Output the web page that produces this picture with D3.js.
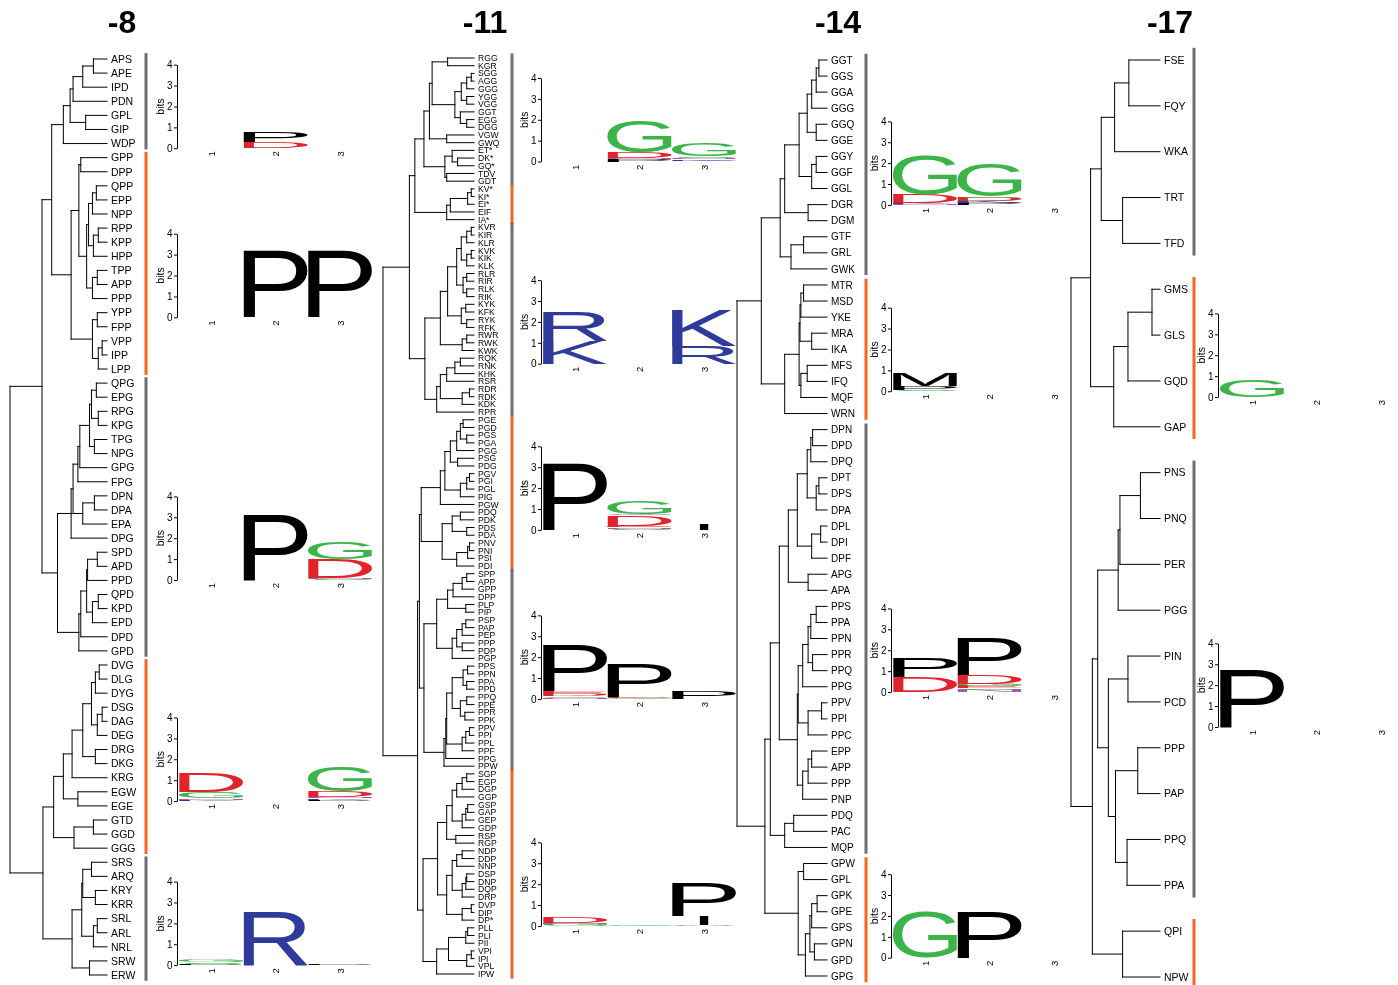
<!DOCTYPE html>
<html>
<head>
<meta charset="utf-8">
<script src="https://cdn.jsdelivr.net/npm/d3@7"></script>
<style>
  body { margin: 0; background: #fff; }
  svg { display: block; will-change: transform; }
  text { font-family: "Liberation Sans", Arial, Helvetica, sans-serif; }
</style>
</head>
<body>
<svg id="chart" width="1398" height="985"></svg>
<script>
// ---- Dendrograms: [mergeHeight, child, child]; leaves are strings (top to bottom) ----
const tree8 = [1.00,
  [0.67,
    [0.57,
      [0.45, [0.38, [0.35, [0.25, [0.14, "APS", "APE"], "IPD"], "PDN"], [0.22, "GPL", "GIP"]], "WDP"],
      [0.37,
        [0.29, [0.27, "GPP", "DPP"],
               [0.21, [0.19, [0.15, [0.11, "QPP", "EPP"], "NPP"], [0.14, [0.09, "RPP", "KPP"], "HPP"]],
                      [0.15, [0.10, "TPP", "APP"], "PPP"]]],
        [0.15, [0.10, "YPP", "FPP"], [0.09, [0.05, "VPP", "IPP"], "LPP"]]]],
    [0.51,
      [0.37, [0.35, [0.30, [0.28, [0.18, [0.16, [0.11, "QPG", "EPG"], [0.09, "RPG", "KPG"]], [0.13, "TPG", "NPG"]], "GPG"], "FPG"],
                    [0.25, [0.13, "DPN", "DPA"], "EPA"]], "DPG"],
      [0.29, [0.27, [0.21, [0.20, [0.10, "SPD", "APD"], "PPD"], [0.15, [0.09, "QPD", "KPD"], "EPD"]], "DPD"], "GPD"]]],
  [0.66,
    [0.55,
      [0.45, [0.36, [0.25, [0.16, [0.12, [0.08, "DVG", "DLG"], "DYG"], [0.10, [0.05, "DSG", "DAG"], "DEG"]], [0.12, "DRG", "DKG"]], "KRG"],
             [0.30, "EGW", "EGE"]],
      [0.34, [0.14, "GTD", "GGD"], "GGG"]],
    [0.36, [0.26, [0.25, [0.16, "SRS", "ARQ"], [0.12, "KRY", "KRR"]], [0.14, [0.10, "SRL", "ARL"], "NRL"]], [0.18, "SRW", "ERW"]]]];

const tree11 = [1.00,
  [0.71,
    [0.65,
      [0.55,
        [0.49,
          [0.46, [0.29, "RGG", "KGR"],
                 [0.21, [0.14, [0.08, [0.03, "SGG", "AGG"], "GGG"], [0.08, "YGG", "VGG"]], [0.15, "GGT", [0.08, "EGG", "DGG"]]]],
          [0.30, "VGW", "GWQ"]],
        [0.32, [0.24, "ET*", [0.18, "DK*", "GQ*"]], [0.30, "TDV", "GDT"]]],
      [0.30, [0.26, [0.07, [0.03, "KV*", "KI*"], "EI*"], "EIF"], "IA*"]],
    [0.54,
      [0.37,
        [0.29,
          [0.19, [0.14, [0.08, [0.03, "KVR", "KIR"], "KLR"], [0.08, [0.03, "KVK", "KIK"], "KLK"]],
                 [0.12, [0.08, "RLR", "RIR"], [0.08, "RLK", "RIK"]]],
          [0.14, [0.09, "KYK", "KFK"], [0.08, "RYK", "RFK"]]],
        [0.13, [0.08, "RWR", "RWK"], "KWK"]],
      [0.41,
        [0.37, [0.30, [0.21, [0.15, "RQK", "RNK"], "KHK"], "RSR"], [0.13, [0.05, "RDR", "RDK"], "KDK"]],
        "RPR"]]],
  [0.62,
    [0.60,
      [0.58,
        [0.37, [0.32, [0.26, [0.19, [0.15, [0.12, "PGE", "PGD"], [0.08, "PGS", "PGA"]], "PGG"], [0.18, "PSG", "PDG"]],
                      [0.15, [0.08, [0.05, "PGV", "PGI"], "PGL"], "PIG"]], "PGW"],
        [0.35, [0.24, [0.15, "PDQ", "PDK"], [0.08, "PDS", "PDA"]], [0.19, [0.07, [0.05, "PNV", "PNI"], "PSI"], "PDI"]]],
      [0.55,
        [0.41, [0.29, [0.23, [0.13, [0.08, "SPP", "APP"], "GPP"], "DPP"], [0.09, "PLP", "PIP"]],
               [0.24, [0.19, [0.13, [0.09, "PSP", "PAP"], "PEP"], [0.13, "PPP", "PDP"]], "PGP"]],
        [0.33, [0.31, [0.30, [0.24, [0.12, [0.07, "PPS", "PPN"], [0.08, "PPA", "PPD"]], [0.15, [0.08, "PPQ", "PPE"], [0.10, "PPR", "PPK"]]],
                             [0.13, [0.09, [0.05, "PPV", "PPI"], "PPL"], "PPF"]], "PPG"], "PPW"]]],
    [0.56,
      [0.40,
        [0.30, [0.24, [0.19, [0.13, [0.08, "SGP", "EGP"], "DGP"], "GGP"], [0.13, [0.09, [0.07, "GSP", "GAP"], "GEP"], "GDP"]], [0.20, "RSP", "RGP"]],
        [0.30, [0.24, [0.19, [0.13, "NDP", "DDP"], "NNP"], [0.13, [0.09, [0.08, "DSP", "DNP"], "DQP"], "DRP"]], [0.13, [0.03, "DVP", "DIP"], "DP*"]]],
      [0.41, [0.28, [0.09, [0.07, "PLL", "PLI"], "PII"], [0.08, [0.03, "VPI", "IPI"], "VPL"]], "IPW"]]]];

const tree14 = [1.00,
  [0.73,
    [0.52,
      [0.47, [0.31, [0.22, [0.17, [0.12, [0.09, "GGT", "GGS"], "GGA"], "GGG"], [0.12, "GGQ", "GGE"]], [0.17, [0.12, "GGY", "GGF"], "GGL"]], [0.21, "DGR", "DGM"]],
      [0.40, [0.26, "GTF", "GRL"], "GWK"]],
    [0.47, [0.31, [0.30, [0.29, [0.26, "MTR", "MSD"], "YKE"], [0.17, "MRA", "IKA"]], [0.29, [0.22, "MFS", "IFQ"], "MQF"]], "WRN"]],
  [0.69,
    [0.63,
      [0.53,
        [0.43, [0.33, [0.22, [0.18, [0.16, "DPN", "DPD"], "DPQ"], [0.12, [0.09, "DPT", "DPS"], "DPA"]], [0.17, [0.07, "DPL", "DPI"], "DPF"]], [0.21, "APG", "APA"]],
        [0.33, [0.32, [0.27, [0.21, [0.18, [0.12, "PPS", "PPA"], "PPN"], [0.16, "PPR", "PPQ"]], "PPG"], [0.21, [0.06, "PPV", "PPI"], "PPC"]],
               [0.27, [0.21, [0.17, "EPP", "APP"], "PPP"], "PNP"]]],
      [0.47, [0.37, "PDQ", "PAC"], "MQP"]],
    [0.32, [0.26, "GPW", "GPL"], [0.24, [0.19, [0.17, [0.11, "GPK", "GPE"], "GPS"], [0.14, "GPN", "GPD"]], "GPG"]]]];

const tree17 = [1.00,
  [0.78,
    [0.66, [0.51, [0.35, "FSE", "FQY"], "WKA"], [0.42, "TRT", "TFD"]],
    [0.52, [0.36, [0.09, "GMS", "GLS"], "GQD"], "GAP"]],
  [0.76,
    [0.70, [0.47, [0.45, [0.22, "PNS", "PNQ"], "PER"], "PGG"],
           [0.58, [0.36, "PIN", "PCD"], [0.50, [0.25, "PPP", "PAP"], [0.37, "PPQ", "PPA"]]]],
    [0.42, "QPI", "NPW"]]];

// ---- Cluster sizes (consecutive leaves, alternating grey / orange) ----
const clusters8  = [7, 16, 20, 14, 9];
const clusters11 = [17, 5, 25, 20, 26, 27];
const clusters14 = [14, 9, 27, 8];
const clusters17 = [5, 4, 10, 2];

// ---- Sequence logos per cluster: three positions, stacks of [residue, bits] bottom to top ----
const logos8 = [
  [[], [["D", 0.3], ["P", 0.5]], []],
  [[], [["P", 3.2]], [["P", 3.2]]],
  [[], [["P", 3.15]], [["S", 0.05], ["N", 0.05], ["D", 0.9], ["G", 0.8]]],
  [[["K", 0.06], ["N", 0.06], ["G", 0.3], ["D", 0.9]], [], [["P", 0.05], ["K", 0.08], ["N", 0.05], ["D", 0.3], ["G", 1.2]]],
  [[["P", 0.05], ["S", 0.08], ["G", 0.12]], [["R", 2.6]], [["P", 0.08]]]
];
const logos11 = [
  [[], [["P", 0.1], ["N", 0.05], ["D", 0.27], ["G", 1.5]], [["Q", 0.05], ["K", 0.06], ["N", 0.08], ["S", 0.08], ["G", 0.65]]],
  null,
  [[["K", 1.1], ["R", 1.45]], [], [["R", 0.85], ["K", 1.7]]],
  [[["P", 3.2]], [["S", 0.05], ["N", 0.08], ["E", 0.06], ["D", 0.5], ["Q", 0.05], ["G", 0.6]], [["I", 0.3]]],
  [[["N", 0.06], ["G", 0.08], ["D", 0.12], ["E", 0.1], ["P", 2.2]], [["G", 0.05], ["D", 0.05], ["P", 1.6]], [["P", 0.35]]],
  [[["G", 0.1], ["N", 0.06], ["D", 0.3]], [["G", 0.05]], [["A", 0.06], ["I", 0.4], ["P", 1.6]]]
];
const logos14 = [
  [[["N", 0.05], ["K", 0.05], ["D", 0.4], ["G", 1.9]], [["P", 0.1], ["K", 0.1], ["D", 0.15], ["S", 0.05], ["G", 1.55]], []],
  [[["S", 0.08], ["P", 0.15], ["M", 0.6]], [], []],
  [[["D", 0.7], ["P", 0.9]], [["N", 0.1], ["S", 0.08], ["E", 0.1], ["G", 0.12], ["D", 0.4], ["P", 1.8]], []],
  [[["G", 2.2]], [["P", 2.2]], []]
];
const logos17 = [
  null,
  [[["G", 0.8]], [], []],
  [[["P", 2.75]], [], []],
  null
];

const positionLabels = ["1", "2", "3"];
const bitTicks = [0, 1, 2, 3, 4];

// ---- Layout ----
const panels = [
  { title: "-8",  tree: tree8,  clusters: clusters8,  logos: logos8,  titleX: 122,  rootX: 10,   leafX: 107,  top: 59, bottom: 975, labelSize: 10.5, barX: 146,  axisX: 177,  drop: [47, 54, 63, 44.5, 46.5] },
  { title: "-11", tree: tree11, clusters: clusters11, logos: logos11, titleX: 485,  rootX: 383,  leafX: 474,  top: 58, bottom: 974, labelSize: 8.6,  barX: 512,  axisX: 541,  drop: [42, 0, 44, 37, 29, 52] },
  { title: "-14", tree: tree14, clusters: clusters14, logos: logos14, titleX: 838,  rootX: 737,  leafX: 827,  top: 60, bottom: 976, labelSize: 10,   barX: 866,  axisX: 891,  drop: [40.5, 42, 53.5, 38] },
  { title: "-17", tree: tree17, clusters: clusters17, logos: logos17, titleX: 1170, rootX: 1071, leafX: 1160, top: 60, bottom: 977, labelSize: 10.5, barX: 1194, axisX: 1218, drop: [0, 39, 48, 0] }
];

const clusterColors = ["#6d6e71", "#f26522"];
const residueColor = r => ({
  G: "#3bb54a", S: "#3bb54a", T: "#3bb54a", Y: "#3bb54a", C: "#3bb54a",
  N: "#b452b4", Q: "#b452b4",
  K: "#2e3b9a", R: "#2e3b9a", H: "#2e3b9a",
  D: "#e1232b", E: "#e1232b"
}[r] || "#000");
// residues whose glyph keeps a narrow stroke instead of filling the column
const narrowResidues = { I: 0.14 };

const FONT = '"Liberation Sans", Arial, Helvetica, sans-serif';
const PX_PER_BIT = 20.9;
const COL_W = 64.5;

const svg = d3.select("#chart");

// tight glyph bounds so each residue can be stretched to fill its box
const measureCtx = document.createElement("canvas").getContext("2d");
const glyphCache = {};
function glyphBox(ch) {
  if (!glyphCache[ch]) {
    measureCtx.font = `100px ${FONT}`;
    const m = measureCtx.measureText(ch);
    glyphCache[ch] = { l: m.actualBoundingBoxLeft, r: m.actualBoundingBoxRight,
                       a: m.actualBoundingBoxAscent, d: m.actualBoundingBoxDescent };
  }
  return glyphCache[ch];
}
function drawResidue(g, ch, x0, y0, w, h) {
  const b = glyphBox(ch);
  const gw = b.l + b.r, gh = b.a + b.d;
  const f = narrowResidues[ch] || 1;
  const wd = w * f, xd = x0 + (w - wd) / 2;
  g.append("text")
    .text(ch)
    .attr("fill", residueColor(ch))
    .style("font-size", "100px")
    .attr("transform", `translate(${xd},${y0}) scale(${wd / gw},${h / gh}) translate(${b.l},${b.a})`);
}

function drawLogo(g, stacks, axisX, baseY) {
  const bits = d3.scaleLinear().domain([0, 4]).range([baseY, baseY - 4 * PX_PER_BIT]);
  const colX = d3.scaleBand().domain(positionLabels).range([axisX + 2, axisX + 2 + 3 * COL_W]);

  const ax = g.append("g").attr("transform", `translate(${axisX},0)`)
    .call(d3.axisLeft(bits).tickValues(bitTicks).tickFormat(d3.format("d")).tickSize(3).tickSizeOuter(0).tickPadding(1.5));
  ax.attr("font-family", null).attr("font-size", null);
  ax.select(".domain").attr("stroke", "#000").attr("stroke-width", 1);
  ax.selectAll(".tick line").attr("stroke", "#000");
  ax.selectAll(".tick text").style("font-size", "10px").attr("fill", "#000");

  g.append("text")
    .attr("transform", `translate(${axisX - 13},${bits(2)}) rotate(-90)`)
    .attr("text-anchor", "middle")
    .style("font-size", "10.5px")
    .text("bits");

  positionLabels.forEach((lab, i) => {
    g.append("text")
      .attr("transform", `translate(${colX(lab) + colX.bandwidth() / 2},${baseY + 3}) rotate(-90)`)
      .attr("text-anchor", "end")
      .attr("dy", "0.35em")
      .style("font-size", "9.5px")
      .text(lab);

    let yCur = baseY;
    stacks[i].forEach(([res, b]) => {
      const h = bits(0) - bits(b);
      drawResidue(g, res, colX(lab), yCur - h, colX.bandwidth(), h);
      yCur -= h;
    });
  });
}

panels.forEach(p => {
  const g = svg.append("g");
  const root = d3.hierarchy(p.tree, d => Array.isArray(d) ? d.slice(1) : null);
  const leaves = root.leaves();
  const y = d3.scaleLinear().domain([0, leaves.length - 1]).range([p.top, p.bottom]);
  const x = d3.scaleLinear().domain([0, 1]).range([p.leafX, p.rootX]);

  leaves.forEach((l, i) => { l.py = y(i); });
  root.eachAfter(n => {
    n.mh = n.children ? n.data[0] : 0;
    if (n.children) n.py = d3.mean(n.children, c => c.py);
  });

  // branch segments
  const segs = [];
  root.each(n => {
    if (!n.children) return;
    const first = n.children[0], last = n.children[n.children.length - 1];
    segs.push([x(n.mh), first.py, x(n.mh), last.py]);
    n.children.forEach(c => segs.push([x(n.mh), c.py, x(c.mh), c.py]));
  });
  g.append("g").selectAll("line").data(segs).join("line")
    .attr("x1", d => d[0]).attr("y1", d => d[1])
    .attr("x2", d => d[2]).attr("y2", d => d[3])
    .attr("stroke", "#000").attr("stroke-width", 1).attr("stroke-linecap", "square");

  // leaf labels
  g.append("g").selectAll("text").data(leaves).join("text")
    .attr("x", p.leafX + 4)
    .attr("y", d => d.py)
    .attr("dy", "0.36em")
    .style("font-size", p.labelSize + "px")
    .text(d => d.data);

  // title
  g.append("text")
    .attr("x", p.titleX).attr("y", 33)
    .attr("text-anchor", "middle")
    .style("font-size", "32px").style("font-weight", "bold")
    .text(p.title);

  // cluster bars and logos
  const step = y(1) - y(0);
  const pad = 0.2 * step + 3;
  let start = 0;
  p.clusters.forEach((n, k) => {
    const y0 = y(start), y1 = y(start + n - 1);
    g.append("line")
      .attr("x1", p.barX).attr("x2", p.barX)
      .attr("y1", y0 - pad).attr("y2", y1 + pad)
      .attr("stroke", clusterColors[k % 2]).attr("stroke-width", 3);
    if (p.logos[k]) {
      drawLogo(g.append("g"), p.logos[k], p.axisX, (y0 + y1) / 2 + p.drop[k]);
    }
    start += n;
  });
});
</script>
</body>
</html>
